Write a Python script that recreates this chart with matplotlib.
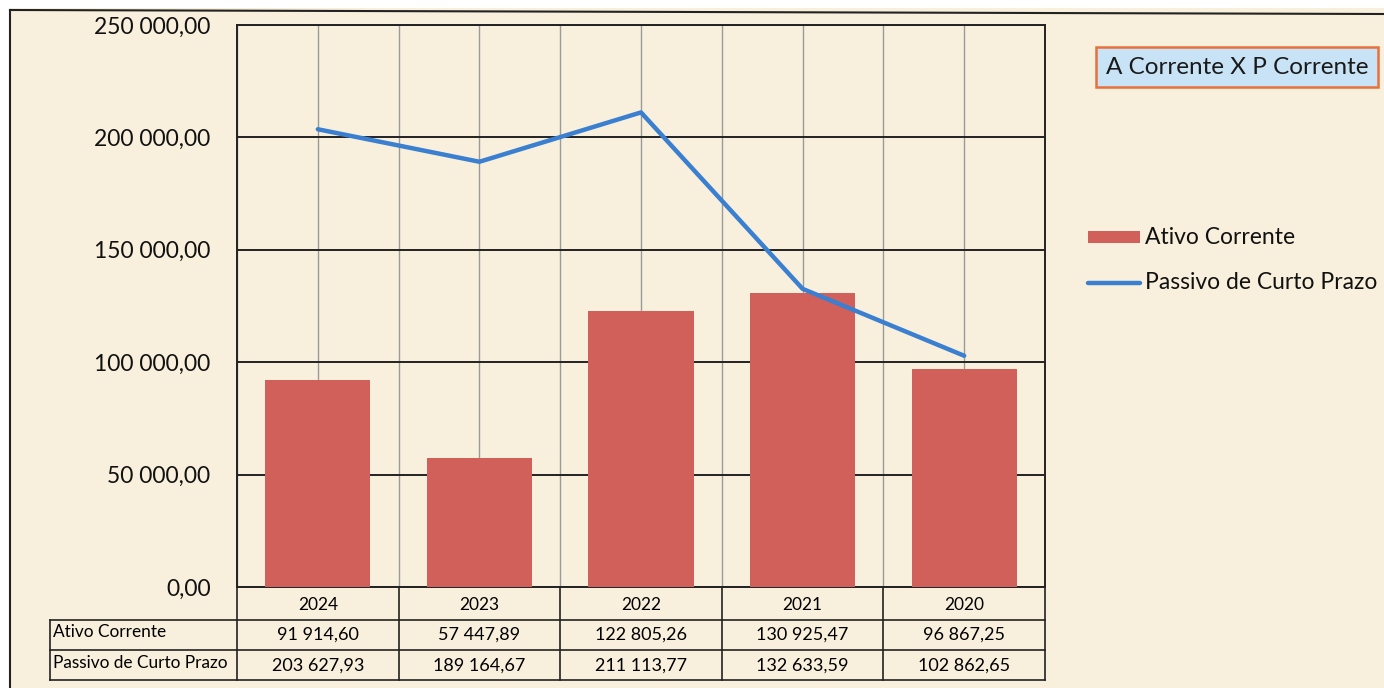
import matplotlib
matplotlib.use("Agg")
import matplotlib.pyplot as plt
from matplotlib.patches import Rectangle
from matplotlib.lines import Line2D
import numpy as np

years = ["2024", "2023", "2022", "2021", "2020"]
ativo_corrente = [91914.60, 57447.89, 122805.26, 130925.47, 96867.25]
passivo_curto_prazo = [203627.93, 189164.67, 211113.77, 132633.59, 102862.65]
ativo_labels = ["91 914,60", "57 447,89", "122 805,26", "130 925,47", "96 867,25"]
passivo_labels = ["203 627,93", "189 164,67", "211 113,77", "132 633,59", "102 862,65"]
row_names = ["Ativo Corrente", "Passivo de Curto Prazo"]
y_ticks = [0, 50000, 100000, 150000, 200000, 250000]
title = "A Corrente X P Corrente"

BAR = "#d15f5a"
LINE = "#3b7fd0"
BG = "#f8f0dc"
FONT = "Lato"

W, H = 1384, 688
fig = plt.figure(figsize=(W / 100, H / 100), dpi=100, facecolor="white")

# chart area background + outer border
fig.patches.append(Rectangle((10 / W, 0), 1, 1 - 8 / H, transform=fig.transFigure,
                             facecolor=BG, edgecolor="none", zorder=-5))
fig.lines.append(Line2D([10 / W, 1], [1 - 10 / H, 1 - 14 / H], transform=fig.transFigure,
                        color="#222", lw=1.5, zorder=-4))
fig.lines.append(Line2D([10 / W, 10 / W], [0, 1 - 10 / H], transform=fig.transFigure,
                        color="#222", lw=1.5, zorder=-4))

L, R, T, B = 237, 1045, 25, 587
ax = fig.add_axes([L / W, 1 - B / H, (R - L) / W, (B - T) / H])
ax.set_facecolor(BG)

x = np.arange(len(years))
ax.bar(x, ativo_corrente, width=0.65, color=BAR, zorder=3)
ax.plot(x, passivo_curto_prazo, color=LINE, lw=3.2, zorder=4, solid_capstyle="round")

ax.set_xlim(-0.5, len(years) - 0.5)
ax.set_ylim(0, 250000)
ax.set_yticks(y_ticks)
ax.set_yticklabels([f"{v:,.2f}".replace(",", " ").replace(".", ",") for v in y_ticks],
                   fontsize=16.5, family=FONT, color="#111")
ax.tick_params(axis="y", length=0, pad=19)
ax.set_xticks(x)
ax.set_xticks(np.arange(len(years) + 1) - 0.5, minor=True)
ax.tick_params(axis="x", which="both", length=0, labelbottom=False)
ax.grid(axis="y", color="#222", lw=1.4, zorder=1)
ax.grid(axis="x", which="both", color="#9a9a9a", lw=1.0, zorder=1)
for s in ax.spines.values():
    s.set_color("#222")
    s.set_linewidth(1.4)

# data table below plot, aligned with the category axis
tr = ax.get_xaxis_transform()
def fy(px):
    return (B - px) / (B - T)

left_col = (50 - L) / (R - L) * len(years) - 0.5
row_lines = [620, 650, 680]
for py in row_lines:
    ax.add_line(Line2D([left_col, len(years) - 0.5], [fy(py)] * 2, transform=tr,
                       color="#222", lw=1.2, clip_on=False))
for xb in np.arange(len(years) + 1) - 0.5:
    ax.add_line(Line2D([xb, xb], [fy(B), fy(680)], transform=tr, color="#222", lw=1.2,
                       clip_on=False))
ax.add_line(Line2D([left_col, left_col], [fy(620), fy(680)], transform=tr, color="#222",
                   lw=1.2, clip_on=False))

for i, yr in enumerate(years):
    ax.text(i, fy(605), yr, transform=tr, ha="center", va="center", fontsize=12.5,
            family=FONT, clip_on=False)
    ax.text(i, fy(635), ativo_labels[i], transform=tr, ha="center", va="center",
            fontsize=13, family=FONT, clip_on=False)
    ax.text(i, fy(666), passivo_labels[i], transform=tr, ha="center", va="center",
            fontsize=13, family=FONT, clip_on=False)
for j, name in enumerate(row_names):
    ax.text(left_col + 0.02, fy(632 + 31 * j), name, transform=tr, ha="left",
            va="center", fontsize=12.4, family=FONT, clip_on=False)

# title box at right
fig.text(1106 / W, 1 - 67 / H, title, fontsize=17.5, family=FONT, color="#1a1a1a",
         ha="left", va="center",
         bbox=dict(boxstyle="square,pad=0.4", facecolor="#c8e3f6", edgecolor="#e8703a", lw=1.8))

# legend
fig.patches.append(Rectangle((1088 / W, 1 - 243 / H), 52 / W, 12 / H, transform=fig.transFigure,
                             facecolor=BAR, edgecolor="none"))
fig.text(1145 / W, 1 - 237 / H, row_names[0], fontsize=16.5, family=FONT, va="center",
         ha="left", color="#111")
fig.lines.append(Line2D([1088 / W, 1140 / W], [1 - 283 / H] * 2, transform=fig.transFigure,
                        color=LINE, lw=3.2, solid_capstyle="round"))
fig.text(1145 / W, 1 - 283 / H, row_names[1], fontsize=16.5, family=FONT, va="center",
         ha="left", color="#111")

fig.savefig("out.png", dpi=100, facecolor="white")
